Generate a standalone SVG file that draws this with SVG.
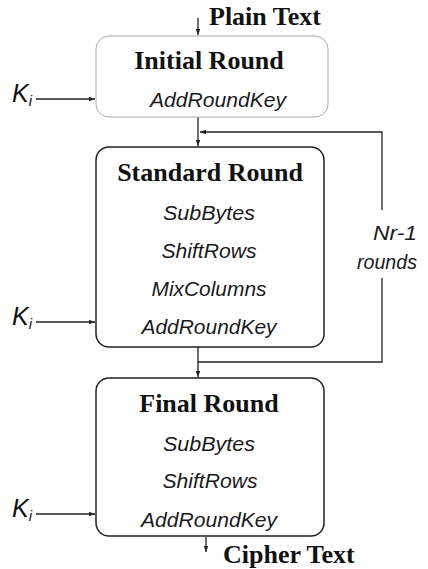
<svg xmlns="http://www.w3.org/2000/svg" width="428" height="569" viewBox="0 0 428 569">
  <style>
    .title { font-family: "Liberation Serif", "Times New Roman", serif; font-weight: bold; font-size: 26px; fill: #111; text-anchor: middle; }
    .io { font-family: "Liberation Serif", "Times New Roman", serif; font-weight: bold; font-size: 26px; fill: #111; }
    .step { font-family: "Liberation Sans", Arial, sans-serif; font-style: italic; font-size: 20.5px; fill: #1a1a1a; text-anchor: middle; }
    .note { font-family: "Liberation Sans", Arial, sans-serif; font-style: italic; font-size: 21px; fill: #1a1a1a; text-anchor: end; }
    .key { font-family: "Liberation Sans", Arial, sans-serif; font-style: italic; font-size: 25px; fill: #111; }
    .sub { font-size: 15px; }
    .wire { fill: none; stroke: #222; stroke-width: 1.3; }
    .box { fill: #fff; stroke: #222; stroke-width: 1.5; }
    .box-light { fill: #fff; stroke: #aaa; stroke-width: 1; }
  </style>
  <defs>
    <marker id="arrow" viewBox="0 0 8 6" refX="8" refY="3" markerWidth="6" markerHeight="5" orient="auto" markerUnits="userSpaceOnUse">
      <path d="M0,0 L8,3 L0,6 Z" fill="#222"/>
    </marker>
  </defs>

  <!-- connectors -->
  <g id="connectors">
    <line class="wire" x1="198" y1="18" x2="198" y2="35" marker-end="url(#arrow)"/>
    <line class="wire" x1="198" y1="117" x2="198" y2="146" marker-end="url(#arrow)"/>
    <polyline class="wire" points="382,210 382,132 200,132" marker-end="url(#arrow)"/>
    <polyline class="wire" points="198,347 198,362 382,362 382,278"/>
    <line class="wire" x1="198" y1="362" x2="198" y2="377" marker-end="url(#arrow)"/>
    <line class="wire" x1="206" y1="537" x2="206" y2="552" marker-end="url(#arrow)"/>
    <line class="wire" x1="36" y1="99" x2="95" y2="99" marker-end="url(#arrow)"/>
    <line class="wire" x1="36" y1="322" x2="95" y2="322" marker-end="url(#arrow)"/>
    <line class="wire" x1="36" y1="514" x2="95" y2="514" marker-end="url(#arrow)"/>
  </g>

  <!-- input / output labels -->
  <g id="plain-text">
    <text class="io" x="209" y="25">Plain Text</text>
  </g>
  <g id="cipher-text">
    <text class="io" x="223" y="563">Cipher Text</text>
  </g>

  <!-- initial round -->
  <g id="initial-round">
    <rect class="box-light" x="96" y="36" width="232" height="81" rx="13"/>
    <text class="title" x="209" y="69">Initial Round</text>
    <text class="step" x="218" y="107" textLength="136" lengthAdjust="spacingAndGlyphs">AddRoundKey</text>
  </g>

  <!-- standard round -->
  <g id="standard-round">
    <rect class="box" x="96" y="147" width="228" height="200" rx="13"/>
    <text class="title" x="210" y="181">Standard Round</text>
    <text class="step" x="209" y="220" textLength="92" lengthAdjust="spacingAndGlyphs">SubBytes</text>
    <text class="step" x="209" y="258" textLength="95" lengthAdjust="spacingAndGlyphs">ShiftRows</text>
    <text class="step" x="209" y="296" textLength="115" lengthAdjust="spacingAndGlyphs">MixColumns</text>
    <text class="step" x="209" y="334" textLength="135" lengthAdjust="spacingAndGlyphs">AddRoundKey</text>
  </g>

  <!-- final round -->
  <g id="final-round">
    <rect class="box" x="96" y="378" width="228" height="158" rx="13"/>
    <text class="title" x="209" y="412">Final Round</text>
    <text class="step" x="209" y="451" textLength="92" lengthAdjust="spacingAndGlyphs">SubBytes</text>
    <text class="step" x="210" y="488" textLength="95" lengthAdjust="spacingAndGlyphs">ShiftRows</text>
    <text class="step" x="209" y="527" textLength="136" lengthAdjust="spacingAndGlyphs">AddRoundKey</text>
  </g>

  <!-- loop count -->
  <g id="loop-label">
    <text class="note" x="417" y="240" textLength="44" lengthAdjust="spacingAndGlyphs">Nr-1</text>
    <text class="note" x="417" y="269" textLength="60" lengthAdjust="spacingAndGlyphs">rounds</text>
  </g>

  <!-- round keys -->
  <g id="key-initial">
    <text class="key" x="12" y="102">K<tspan class="sub" dy="4">i</tspan></text>
  </g>
  <g id="key-standard">
    <text class="key" x="12" y="325">K<tspan class="sub" dy="4">i</tspan></text>
  </g>
  <g id="key-final">
    <text class="key" x="12" y="517">K<tspan class="sub" dy="4">i</tspan></text>
  </g>
</svg>
